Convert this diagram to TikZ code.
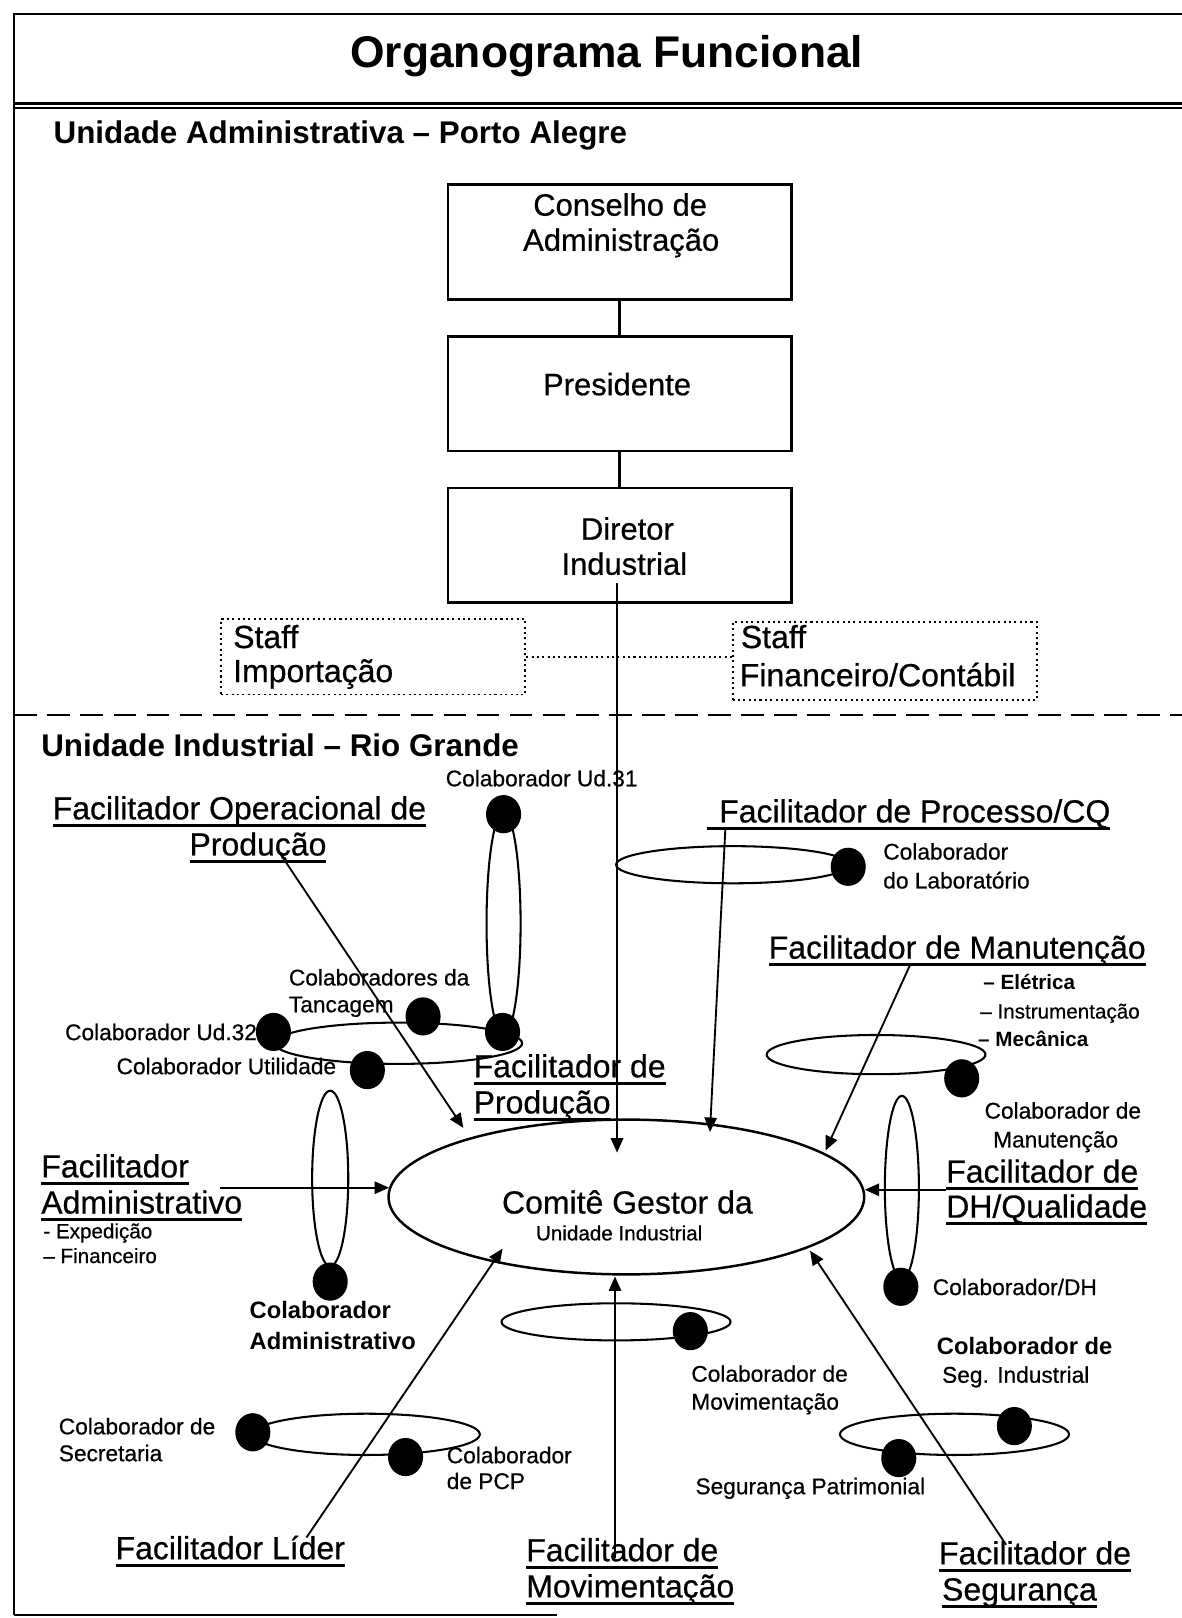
\documentclass[tikz,border=0pt]{standalone}
\usepackage{fontspec}
\setmainfont{Liberation Sans}
\usetikzlibrary{arrows.meta,shapes.geometric}

% underline set just below the baseline
\newcommand\undl[1]{\setbox0\hbox{#1}\rlap{\vrule width\wd0 height -2.3pt depth 3.6pt}\box0}
% slightly heavier regular weight
\newcommand\heavy{\addfontfeature{FakeBold=0.6}}
\newcommand\ftitle{\fontsize{21.5pt}{26pt}\selectfont\bfseries}
\newcommand\fhead{\fontsize{15.2pt}{18pt}\selectfont\bfseries}
\newcommand\fbx{\fontsize{15pt}{18pt}\selectfont\heavy}
\newcommand\ffac{\fontsize{15.5pt}{18pt}\selectfont\heavy}
\newcommand\fsm{\fontsize{11pt}{13pt}\selectfont\heavy}
\newcommand\fsmb{\fontsize{11.5pt}{13pt}\selectfont\bfseries}
\newcommand\ftn{\fontsize{10pt}{12pt}\selectfont\heavy}
\newcommand\ftnb{\fontsize{10pt}{12pt}\selectfont\bfseries}

\tikzset{
  lbl/.style={inner sep=0pt, outer sep=0pt, anchor=base west},
  lblc/.style={inner sep=0pt, outer sep=0pt, anchor=base},
  lble/.style={inner sep=0pt, outer sep=0pt, anchor=base east},
  orgbox/.style={draw, line width=1.3pt, minimum width=166.5pt, minimum height=55.5pt, inner sep=0pt},
  staffbox/.style={draw, line width=0.9pt, dash pattern=on 1pt off 1.6pt, inner sep=0pt, minimum width=147.5pt},
  ring/.style={ellipse, draw, line width=1pt, inner sep=0pt},
  dot/.style={ellipse, fill=black, inner sep=0pt, minimum width=17pt, minimum height=18.5pt},
  link/.style={line width=0.9pt, -{Triangle[length=7pt,width=6pt]}},
  tie/.style={line width=1.2pt},
}

\begin{document}
\begin{tikzpicture}[x=0.5pt,y=-0.5pt]
\useasboundingbox (0,0) rectangle (1145,1568);

% frame, title rules and the divider between the two units
\draw[line width=1pt] (14,1565) -- (14,14) -- (1145,14);
\draw[line width=1pt] (14,1565) -- (540,1565);
\draw[line width=1.6pt] (14,100) -- (1145,100);
\draw[line width=0.7pt] (14,104.5) -- (1145,104.5);
\draw[line width=1.2pt, dash pattern=on 11pt off 5pt] (14,693) -- (1145,693);

% headings
\node[lblc] (title) at (588,65) {\ftitle Organograma Funcional};
\node[lbl] (hadm) at (52,139) {\fhead Unidade Administrativa – Porto Alegre};
\node[lbl] (hind) at (40,733) {\fhead Unidade Industrial – Rio Grande};

% administrative chain
\node[orgbox] (cons) at (600.5,234.5) {};
\node[orgbox] (pres) at (600.5,381.5) {};
\node[orgbox] (dir)  at (600.5,528.5) {};
\node[lblc] (tcons1) at (601,209) {\fbx Conselho de};
\node[lblc] (tcons2) at (602,243) {\fbx Administração};
\node[lblc] (tpres) at (598,383) {\fbx Presidente};
\node[lblc] (tdir1) at (608,523) {\fbx Diretor};
\node[lblc] (tdir2) at (605,557) {\fbx Industrial};
\draw[tie] (cons.south) -- (pres.north);
\draw[tie] (pres.south) -- (dir.north);

% staff units
\node[staffbox, minimum height=36.5pt] (imp) at (361.5,636.5) {};
\node[staffbox, minimum height=37.5pt] (fin) at (857.5,640.5) {};
\node[lbl] (timp1) at (226,628) {\ffac Staff};
\node[lbl] (timp2) at (226,661) {\ffac Importação};
\node[lbl] (tfin1) at (718,628) {\ffac Staff};
\node[lbl] (tfin2) at (717,665) {\ffac Financeiro/Contábil};
\draw[line width=0.9pt, dash pattern=on 1pt off 1.6pt] (imp.east) -- (imp.east -| fin.west);

% management committee
\node[ellipse, draw, line width=1.2pt, minimum width=230.5pt, minimum height=75pt, inner sep=0pt] (cg) at (607,1160) {};
\node[lblc] (cg1) at (608,1176) {\ffac Comitê Gestor da};
\node[lblc] (cg2) at (600,1202) {\ftn Unidade Industrial};

% collaborator rings
\node[ring, minimum width=16.5pt, minimum height=108pt] (rA1) at (488,895) {};
\node[ring, minimum width=120pt, minimum height=20pt] (rA2) at (386,1011) {};
\node[ring, minimum width=17.5pt, minimum height=85pt] (rB) at (320,1142) {};
\node[ring, minimum width=113pt, minimum height=18pt] (rC) at (710,838) {};
\node[ring, minimum width=106pt, minimum height=19pt] (rD) at (849,1022) {};
\node[ring, minimum width=16.5pt, minimum height=89pt] (rE) at (874,1151) {};
\node[ring, minimum width=111pt, minimum height=18pt] (rF) at (597,1281) {};
\node[ring, minimum width=111pt, minimum height=20pt] (rG) at (925,1390) {};
\node[ring, minimum width=110pt, minimum height=20pt] (rH) at (355,1390) {};

% collaborators
\node[dot] (d31) at (488,789) {};
\node[dot] (dA) at (487,1000) {};
\node[dot] (d32) at (265,1000) {};
\node[dot] (dTan) at (410,985) {};
\node[dot] (dUti) at (356,1037) {};
\node[dot] (dAdm) at (320,1242) {};
\node[dot] (dLab) at (822,840) {};
\node[dot] (dMan) at (932,1045) {};
\node[dot] (dDH) at (873,1247) {};
\node[dot] (dMov) at (669,1290) {};
\node[dot] (dSegI) at (983,1382) {};
\node[dot] (dSegP) at (871,1413) {};
\node[dot] (dSec) at (245,1388) {};
\node[dot] (dPCP) at (393,1412) {};

% collaborator names
\node[lbl] (c31) at (432,762) {\fsm Colaborador Ud.31};
\node[lbl] (clab1) at (856,833) {\fsm Colaborador};
\node[lbl] (clab2) at (856,861) {\fsm do Laboratório};
\node[lbl] (ctan1) at (280,955) {\fsm Colaboradores da};
\node[lbl] (ctan2) at (280,981) {\fsm Tancagem};
\node[lble] (c32) at (249,1008) {\fsm Colaborador Ud.32};
\node[lbl] (cuti) at (113,1041) {\fsm Colaborador Utilidade};
\node[lblc] (cman1) at (1030,1084) {\fsm Colaborador de};
\node[lblc] (cman2) at (1023,1112) {\fsm Manutenção};
\node[lbl] (cdh) at (904,1255) {\fsm Colaborador/DH};
\node[lbl] (cadm1) at (242,1278) {\fsmb Colaborador};
\node[lbl] (cadm2) at (242,1308) {\fsmb Administrativo};
\node[lbl] (cseg1) at (908,1313) {\fsmb Colaborador de};
\node[lbl] (cseg2) at (913,1340) {\fsm Seg. Industrial};
\node[lbl] (cmov1) at (670,1339) {\fsm Colaborador de};
\node[lbl] (cmov2) at (670,1366) {\fsm Movimentação};
\node[lbl] (csec1) at (57,1390) {\fsm Colaborador de};
\node[lbl] (csec2) at (57,1416) {\fsm Secretaria};
\node[lbl] (cpcp1) at (433,1418) {\fsm Colaborador};
\node[lbl] (cpcp2) at (433,1443) {\fsm de PCP};
\node[lbl] (cpat) at (674,1448) {\fsm Segurança Patrimonial};

% facilitators
\node[lblc] (fop1) at (232,794) {\ffac\undl{Facilitador Operacional de}};
\node[lblc] (fop2) at (250,829) {\ffac\undl{Produção}};
\node[lbl] (fpr) at (685,797) {\ffac\undl{\hspace{6pt}Facilitador de Processo/CQ}};
\node[lbl] (fma) at (745,929) {\ffac\undl{Facilitador de Manutenção}};
\node[lbl] (fma1) at (953,959) {\ftnb – Elétrica};
\node[lbl] (fma2) at (950,987) {\ftn – Instrumentação};
\node[lbl] (fma3) at (948,1014) {\ftnb – Mecânica};
\node[lbl] (fpd1) at (459,1044) {\ffac\undl{Facilitador de}};
\node[lbl] (fpd2) at (459,1079) {\ffac\undl{Produção}};
\node[lbl] (fad1) at (40,1141) {\ffac\undl{Facilitador}};
\node[lbl] (fad2) at (40,1176) {\ffac\undl{Administrativo}};
\node[lbl] (fad3) at (42,1200) {\ftn - Expedição};
\node[lbl] (fad4) at (42,1224) {\ftn – Financeiro};
\node[lbl] (fdh1) at (917,1146) {\ffac\undl{Facilitador de}};
\node[lbl] (fdh2) at (917,1180) {\ffac\undl{DH/Qualidade}};
\node[lbl] (fli) at (112,1511) {\ffac\undl{Facilitador Líder}};
\node[lbl] (fmo1) at (510,1513) {\ffac\undl{Facilitador de}};
\node[lbl] (fmo2) at (510,1548) {\ffac\undl{Movimentação}};
\node[lbl] (fse1) at (910,1516) {\ffac\undl{Facilitador de}};
\node[lbl] (fse2) at (913,1551) {\ffac\undl{Segurança}};

% arrow ends
\coordinate (aDiS) at (598,565);  \coordinate (aDiT) at (598,1117);
\coordinate (aOpS) at (268,822);  \coordinate (aOpT) at (449,1093);
\coordinate (aPrS) at (703,802);  \coordinate (aPrT) at (688,1097);
\coordinate (aMaS) at (882,935);  \coordinate (aMaT) at (800,1115);
\coordinate (aAdS) at (213,1151); \coordinate (aAdT) at (377,1151);
\coordinate (aDhS) at (917,1153); \coordinate (aDhT) at (838,1153);
\coordinate (aLiS) at (297,1490); \coordinate (aLiT) at (487,1210);
\coordinate (aMoS) at (596,1510); \coordinate (aMoT) at (596,1237);
\coordinate (aSeS) at (975,1497); \coordinate (aSeT) at (785,1212);

% lines of influence into the committee
\draw[link] (aDiS) -- (aDiT);
\draw[link] (aOpS) -- (aOpT);
\draw[link] (aPrS) -- (aPrT);
\draw[link] (aMaS) -- (aMaT);
\draw[link] (aAdS) -- (aAdT);
\draw[link] (aDhS) -- (aDhT);
\draw[link] (aLiS) -- (aLiT);
\draw[link] (aMoS) -- (aMoT);
\draw[link] (aSeS) -- (aSeT);
\end{tikzpicture}
\end{document}
